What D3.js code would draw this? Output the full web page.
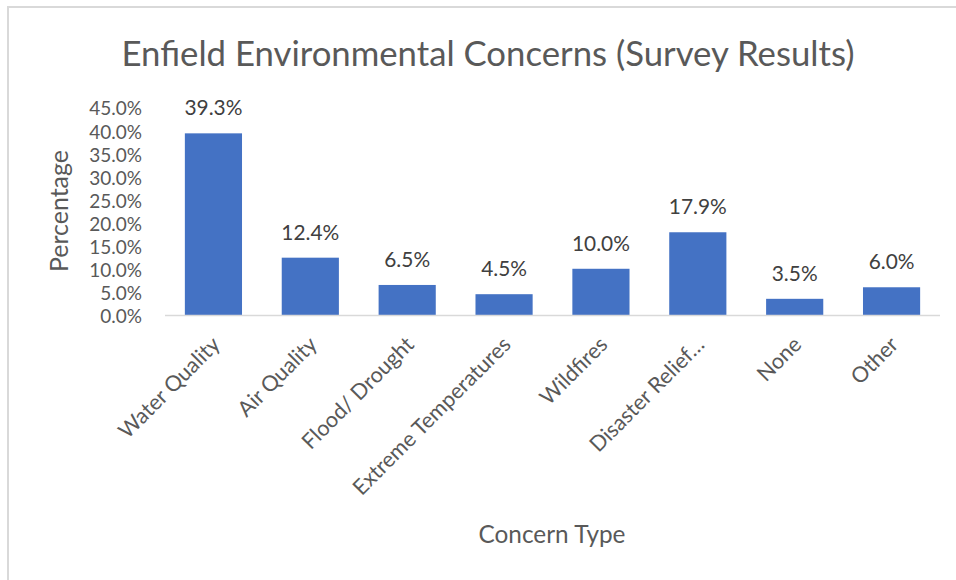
<!DOCTYPE html>
<html>
<head>
<meta charset="utf-8">
<script src="https://cdn.jsdelivr.net/npm/d3@7"></script>
<style>
  html, body { margin: 0; padding: 0; background: #ffffff; }
  svg { display: block; }
  text { font-family: Lato, "Open Sans", sans-serif; }
</style>
</head>
<body>
<script>
const categories = ["Water Quality", "Air Quality", "Flood/ Drought", "Extreme Temperatures", "Wildfires", "Disaster Relief…", "None", "Other"];
const values = [39.3, 12.4, 6.5, 4.5, 10.0, 17.9, 3.5, 6.0];
const yTicks = [0, 5, 10, 15, 20, 25, 30, 35, 40, 45];
const chartTitle = "Enfield Environmental Concerns (Survey Results)";
const yTitle = "Percentage";
const xTitle = "Concern Type";

const W = 956, H = 580;
const svg = d3.select("body").append("svg").attr("width", W).attr("height", H);
svg.append("rect").attr("width", W).attr("height", H).attr("fill", "#ffffff");
// frame (only top and left edges visible)
svg.append("rect").attr("x", 8).attr("y", 7).attr("width", W + 20).attr("height", H + 20)
  .attr("fill", "none").attr("stroke", "#d9d9d9").attr("stroke-width", 2);

// helper to fit a font size to a target width
function fitSize(text, target) {
  const t = svg.append("text").attr("font-size", 20).text(text);
  const w = t.node().getComputedTextLength();
  t.remove();
  return 20 * target / w;
}

const x = d3.scaleBand().domain(categories).range([165, 940]).paddingInner(0.41).paddingOuter(0.205);
const y = d3.scaleLinear().domain([0, 45]).range([315, 107]);

const tickSize = Math.min(19, fitSize("45.0%", 60));
const xLabelSize = fitSize("45.0%", 60);
const dataSize = fitSize("39.3%", 58);

// Title
svg.append("text").attr("x", 488).attr("y", 66).attr("text-anchor", "middle")
  .attr("font-size", fitSize(chartTitle, 733)).attr("fill", "#595959").text(chartTitle);

// Bars
svg.append("g").selectAll("rect").data(values).join("rect")
  .attr("x", (d, i) => x(categories[i]))
  .attr("y", d => y(d))
  .attr("width", x.bandwidth())
  .attr("height", d => y(0) - y(d))
  .attr("fill", "#4472C4");

// Y axis
const yAxis = svg.append("g").attr("transform", "translate(165,0)")
  .call(d3.axisLeft(y).tickValues(yTicks).tickSize(0).tickPadding(23).tickFormat(d => d.toFixed(1) + "%"));
yAxis.select(".domain").remove();
yAxis.selectAll("text").attr("font-size", tickSize).attr("fill", "#595959")
  .attr("font-family", "Lato, 'Open Sans', sans-serif").attr("dy", "0.42em");

// X axis line
svg.append("line").attr("x1", 165).attr("x2", 940).attr("y1", y(0) + 0.5).attr("y2", y(0) + 0.5)
  .attr("stroke", "#d9d9d9").attr("stroke-width", 1.5);

// X axis labels
const xAxis = svg.append("g").attr("transform", `translate(0,${y(0)})`)
  .call(d3.axisBottom(x).tickSize(0).tickPadding(0));
xAxis.select(".domain").remove();
xAxis.selectAll(".tick text")
  .attr("font-size", xLabelSize).attr("fill", "#595959")
  .attr("font-family", "Lato, 'Open Sans', sans-serif")
  .attr("text-anchor", "end")
  .attr("dy", null).attr("y", null)
  .attr("transform", "translate(8,31) rotate(-45)");

// Data labels
svg.append("g").selectAll("text").data(values).join("text")
  .attr("x", (d, i) => x(categories[i]) + x.bandwidth() / 2)
  .attr("y", d => y(d) - 18)
  .attr("text-anchor", "middle")
  .attr("font-size", dataSize).attr("fill", "#404040")
  .text(d => d.toFixed(1) + "%");

// Axis titles
svg.append("text").attr("transform", "translate(68,211) rotate(-90)").attr("text-anchor", "middle")
  .attr("font-size", fitSize(yTitle, 122)).attr("fill", "#595959").text(yTitle);
svg.append("text").attr("x", 552).attr("y", 543).attr("text-anchor", "middle")
  .attr("font-size", fitSize(xTitle, 147)).attr("fill", "#595959").text(xTitle);
</script>
</body>
</html>
